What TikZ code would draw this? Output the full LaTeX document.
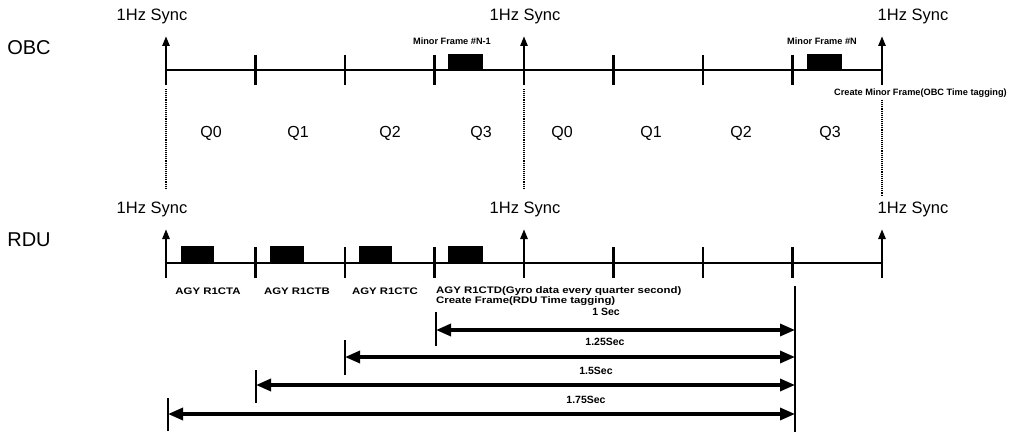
\documentclass[tikz,border=0pt]{standalone}
\usepackage{fontspec}
\setmainfont{Liberation Sans}
\usetikzlibrary{arrows.meta}
\begin{document}
\begin{tikzpicture}[x=1pt,y=-1pt,
  axis/.style={line width=2.2pt},
  tickmark/.style={line width=2.6pt},
  syncarrow/.style={line width=2.6pt,-{Triangle[length=10pt,width=7pt]}},
  dimarrow/.style={line width=3.2pt,{Triangle[length=15pt,width=12pt]}-{Triangle[length=15pt,width=12pt]}},
  guide/.style={line width=1.1pt,densely dotted},
  frame/.style={fill=black,draw=black,inner sep=0pt},
  big/.style={font=\fontsize{20}{22}\selectfont},
  sync/.style={font=\fontsize{16.5}{18}\selectfont},
  qlab/.style={font=\fontsize{16}{18}\selectfont},
  small/.style={font=\bfseries\fontsize{9.2}{10}\selectfont, inner sep=0pt},
  smallwide/.style={font=\bfseries\fontsize{9.5}{10}\selectfont, inner sep=0pt, xscale=1.2},
  dimlab/.style={font=\bfseries\fontsize{10.5}{12}\selectfont, inner sep=0pt}
]
\useasboundingbox (0,0) rectangle (1010,436);

% tick coordinates
\foreach \i/\x in {0/166,1/255.5,2/345,3/434.5,4/524,5/613.5,6/703,7/792.5,8/882}{
  \coordinate (o\i) at (\x,70);
  \coordinate (ot\i) at (\x,36);
  \coordinate (ob\i) at (\x,85);
  \coordinate (r\i) at (\x,263);
  \coordinate (rt\i) at (\x,229);
  \coordinate (rb\i) at (\x,278);
}

% row labels
\node[big] (obc) at (29,48) {OBC};
\node[big] (rdu) at (29,240) {RDU};

% sync labels
\node[sync] (s1) at (152,16) {1Hz Sync};
\node[sync] (s2) at (525,16) {1Hz Sync};
\node[sync] (s3) at (913,16) {1Hz Sync};
\node[sync] (s4) at (152,209) {1Hz Sync};
\node[sync] (s5) at (525,209) {1Hz Sync};
\node[sync] (s6) at (913,209) {1Hz Sync};

% OBC axis
\draw[axis] (o0) -- (o8);
\foreach \i in {1,2,3,5,6,7}{
  \draw[tickmark] ([yshift=15pt]o\i) -- ([yshift=-15pt]o\i);
}
\foreach \i in {0,4,8}{
  \draw[syncarrow] (ob\i) -- (ot\i);
}

% RDU axis
\draw[axis] (r0) -- (r8);
\foreach \i in {1,2,3,5,6,7}{
  \draw[tickmark] ([yshift=16pt]r\i) -- ([yshift=-15pt]r\i);
}
\foreach \i in {0,4,8}{
  \draw[syncarrow] (rb\i) -- (rt\i);
}

% dotted guides
\coordinate (g0a) at (166,89); \coordinate (g0b) at (166,188);
\coordinate (g4a) at (524,89); \coordinate (g4b) at (524,188);
\coordinate (g8a) at (882,100); \coordinate (g8b) at (882,195);
\draw[guide] (g0a) -- (g0b);
\draw[guide] (g4a) -- (g4b);
\draw[guide] (g8a) -- (g8b);

% OBC frames
\node[frame, minimum width=34pt, minimum height=15pt, anchor=south] (mf1) at (465,69) {};
\node[frame, minimum width=34pt, minimum height=15pt, anchor=south] (mf2) at (824.5,69) {};
\node[small, anchor=south] (mf1l) at (452,45) {Minor Frame \#N-1};
\node[small, anchor=south] (mf2l) at (822,45) {Minor Frame \#N};
\node[small, anchor=east] (cmf) at (1007,93) {Create Minor Frame(OBC Time tagging)};

% Q labels
\foreach \x/\t [count=\k] in {211/Q0,298/Q1,390/Q2,481/Q3,562/Q0,651/Q1,741/Q2,830/Q3}{
  \node[qlab] (q\k) at (\x,133) {\t};
}

% RDU frames
\node[frame, minimum width=32pt, minimum height=16pt, anchor=south] (fa) at (197,262) {};
\node[frame, minimum width=33pt, minimum height=16pt, anchor=south] (fb) at (286.5,262) {};
\node[frame, minimum width=32pt, minimum height=16pt, anchor=south] (fc) at (375,262) {};
\node[frame, minimum width=34pt, minimum height=16pt, anchor=south] (fd) at (465.5,262) {};
\node[smallwide] (la) at (208,291) {AGY R1CTA};
\node[smallwide] (lb) at (297,291) {AGY R1CTB};
\node[smallwide] (lc) at (385,291) {AGY R1CTC};
\node[smallwide, anchor=west] (ld) at (436,291) {AGY R1CTD(Gyro data every quarter second)};
\node[smallwide, anchor=west] (le) at (436,301) {Create Frame(RDU Time tagging)};

% dimension lines
\coordinate (rv1) at (795,286); \coordinate (rv2) at (795,432);
\draw[tickmark] (rv1) -- (rv2);
\coordinate (l1a) at (436,312); \coordinate (l1b) at (436,346);
\coordinate (l2a) at (345,340); \coordinate (l2b) at (345,375);
\coordinate (l3a) at (256,370); \coordinate (l3b) at (256,403);
\coordinate (l4a) at (168,398); \coordinate (l4b) at (168,431);
\draw[tickmark] (l1a) -- (l1b);
\draw[tickmark] (l2a) -- (l2b);
\draw[tickmark] (l3a) -- (l3b);
\draw[tickmark] (l4a) -- (l4b);
\coordinate (d1l) at (436,330); \coordinate (d1r) at (795,330);
\coordinate (d2l) at (345,357); \coordinate (d2r) at (795,357);
\coordinate (d3l) at (256,385); \coordinate (d3r) at (795,385);
\coordinate (d4l) at (168,414); \coordinate (d4r) at (795,414);
\draw[dimarrow] (d1l) -- (d1r);
\draw[dimarrow] (d2l) -- (d2r);
\draw[dimarrow] (d3l) -- (d3r);
\draw[dimarrow] (d4l) -- (d4r);
\node[dimlab] (t1) at (606,312) {1 Sec};
\node[dimlab] (t2) at (605,342) {1.25Sec};
\node[dimlab] (t3) at (596,371) {1.5Sec};
\node[dimlab] (t4) at (586,400) {1.75Sec};
\end{tikzpicture}
\end{document}
